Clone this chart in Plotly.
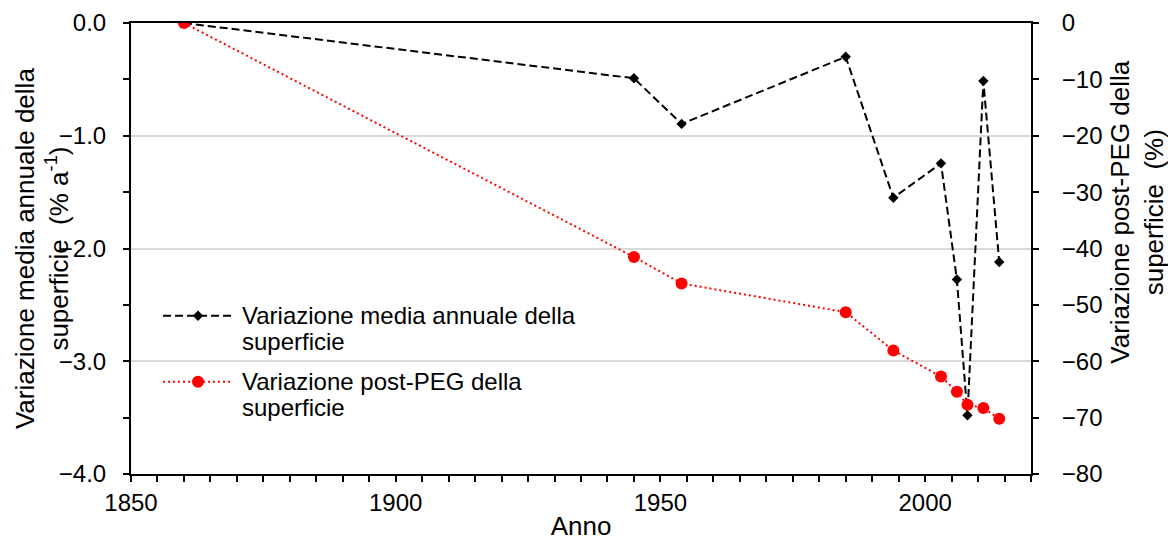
import plotly.graph_objects as go

# Anni di rilievo
anni = [1860, 1945, 1954, 1985, 1994, 2003, 2006, 2008, 2011, 2014]
# Variazione media annuale della superficie (% a-1), asse sinistro
var_media_annuale = [0.0, -0.49, -0.895, -0.30, -1.55, -1.245, -2.275, -3.48, -0.515, -2.12]
# Variazione post-PEG della superficie (%), asse destro
var_post_peg = [0.0, -41.5, -46.2, -51.3, -58.1, -62.7, -65.4, -67.7, -68.3, -70.2]

voce_media = ["Variazione media annuale della", "superficie"]
voce_peg = ["Variazione post-PEG della", "superficie"]
titolo_y_sx = "Variazione media annuale della<br>superficie\u00a0 (% a<sup>-1</sup>)"
titolo_y_dx = "Variazione post-PEG della<br>superficie\u00a0 (%)"

FONT = "Liberation Sans, Arial, sans-serif"
NERO = "black"
ROSSO = "#ff0000"
DASH_NERO = "8px,4px"
DASH_ROSSO = "2px,3px"

fig = go.Figure()

fig.add_trace(go.Scatter(
    x=anni, y=var_media_annuale, name=" ".join(voce_media), yaxis="y",
    mode="lines+markers", showlegend=False,
    line=dict(color=NERO, width=2, dash=DASH_NERO),
    marker=dict(symbol="diamond", size=8, color=NERO),
))

fig.add_trace(go.Scatter(
    x=anni, y=var_post_peg, name=" ".join(voce_peg), yaxis="y2",
    mode="lines+markers", showlegend=False,
    line=dict(color=ROSSO, width=2, dash=DASH_ROSSO),
    marker=dict(symbol="circle", size=12, color=ROSSO),
))

# Legenda disegnata a mano: campione di linea lungo e testo su due righe
leg_x0, leg_x1, leg_xt = 0.0356, 0.1133, 0.121
voci = [
    (0.351, voce_media, NERO, DASH_NERO, "diamond"),
    (0.2047, voce_peg, ROSSO, DASH_ROSSO, "circle"),
]
riga = 26 / 451  # interlinea in frazione dell'area del grafico
shapes = []
annotations = []
for y, righe, colore, dash, simbolo in voci:
    shapes.append(dict(type="line", xref="paper", yref="paper",
                       x0=leg_x0, x1=leg_x1, y0=y, y1=y,
                       line=dict(color=colore, width=2, dash=dash)))
    xc = (leg_x0 + leg_x1) / 2
    if simbolo == "diamond":
        shapes.append(dict(type="path", xref="paper", yref="paper",
                           xsizemode="pixel", ysizemode="pixel",
                           xanchor=xc, yanchor=y,
                           path="M -5.2 0 L 0 5.2 L 5.2 0 L 0 -5.2 Z",
                           fillcolor=colore, line=dict(width=0)))
    else:
        shapes.append(dict(type="circle", xref="paper", yref="paper",
                           xsizemode="pixel", ysizemode="pixel",
                           xanchor=xc, yanchor=y, x0=-6, x1=6, y0=-6, y1=6,
                           fillcolor=colore, line=dict(width=0)))
    for i, testo in enumerate(righe):
        annotations.append(dict(text=testo, xref="paper", yref="paper",
                                x=leg_xt, y=y - i * riga, xanchor="left", yanchor="middle",
                                showarrow=False, font=dict(family=FONT, size=24, color="black")))

# Titoli degli assi verticali, ruotati
annotations.append(dict(text=titolo_y_sx, xref="paper", yref="paper",
                        x=-0.0994, y=0.5, xanchor="center", yanchor="middle",
                        textangle=-90, showarrow=False,
                        font=dict(family=FONT, size=26, color="black")))
annotations.append(dict(text=titolo_y_dx, xref="paper", yref="paper",
                        x=1.1178, y=0.5816, xanchor="center", yanchor="middle",
                        textangle=-90, showarrow=False,
                        font=dict(family=FONT, size=26, color="black")))

fig.update_layout(
    width=1168, height=541,
    margin=dict(l=131, r=137, t=23, b=67),
    paper_bgcolor="white", plot_bgcolor="white",
    font=dict(family=FONT, size=24, color="black"),
    showlegend=False,
    shapes=shapes,
    annotations=annotations,
    xaxis=dict(
        range=[1850, 2020], tick0=1850, dtick=50, automargin=False,
        showgrid=False, zeroline=False,
        showline=True, linecolor="black", linewidth=2, mirror=True,
        ticks="outside", ticklen=6, tickwidth=1.5, tickcolor="black",
        minor=dict(dtick=5, ticks="outside", ticklen=6, tickwidth=1.5, tickcolor="black", showgrid=False),
        tickfont=dict(size=24), ticklabelstandoff=0,
        title=dict(text="Anno", font=dict(size=26), standoff=9),
    ),
    yaxis=dict(
        range=[-4, 0], dtick=1, tickformat=".1f", automargin=False,
        showgrid=True, gridcolor="#d9d9d9", gridwidth=2, zeroline=False,
        showline=True, linecolor="black", linewidth=2,
        ticks="outside", ticklen=6, tickwidth=1.5, tickcolor="black",
        minor=dict(dtick=0.5, ticks="outside", ticklen=6, tickwidth=1.5, tickcolor="black", showgrid=False),
        tickfont=dict(size=24), ticklabelstandoff=12,
    ),
    yaxis2=dict(
        range=[-80, 0], dtick=10, overlaying="y", side="right", automargin=False,
        showgrid=False, zeroline=False,
        showline=True, linecolor="black", linewidth=2,
        ticks="outside", ticklen=6, tickwidth=1.5, tickcolor="black",
        tickfont=dict(size=24), ticklabelstandoff=18,
    ),
)

fig.write_html("out.html")
